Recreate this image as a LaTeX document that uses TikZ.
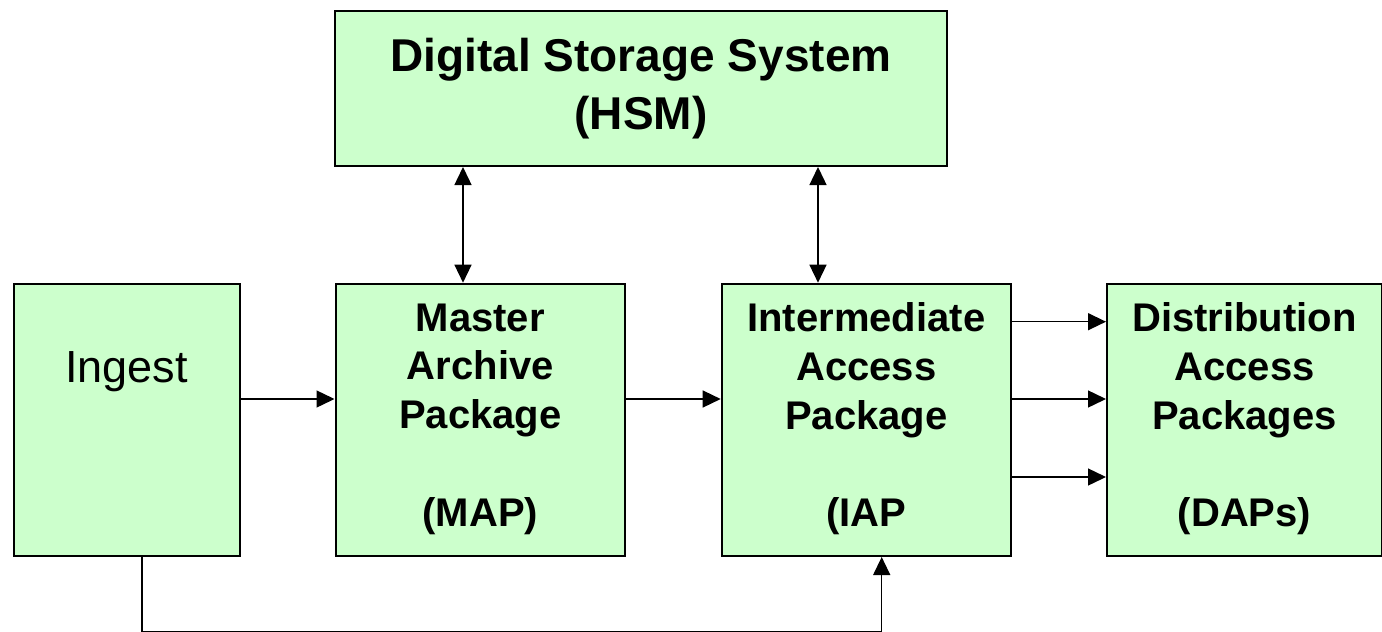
\documentclass[tikz,border=0pt]{standalone}
\usepackage{fontspec}
\setmainfont{Liberation Sans}
\usetikzlibrary{arrows.meta}
\definecolor{boxgreen}{HTML}{CCFFCC}
\begin{document}
\begin{tikzpicture}[x=1pt,y=-1pt,
  boxbase/.style={draw=black, line width=2pt, fill=boxgreen, inner sep=0pt, anchor=north west},
  box/.style={boxbase, align=center, font=\bfseries\fontsize{40}{48.7}\selectfont},
  link/.style={line width=1.4pt, -{Triangle[length=18pt,width=17pt]}},
  dlink/.style={line width=1.4pt, {Triangle[length=18pt,width=17pt]}-{Triangle[length=18pt,width=17pt]}}]
\useasboundingbox (0,0) rectangle (1382,632);

% storage system on top
\node[box, font=\bfseries\fontsize{46}{58}\selectfont,
      minimum width=612pt, minimum height=155pt] (hsm) at (334,10)
  {Digital Storage System\\(HSM)};

% row of processing stages
\node[boxbase, font=\fontsize{45}{54}\selectfont, minimum width=226pt,
      text height=98.8pt, text depth=173.5pt] (ingest) at (12.5,282.7) {Ingest};
\node[box, minimum width=289.5pt, minimum height=272.3pt, text depth=10pt] (map) at (334.5,282.7)
  {Master\\Archive\\Package\\[48.7pt](MAP)};
\node[box, minimum width=289.3pt, minimum height=272.3pt, text depth=10pt] (iap) at (720.7,282.7)
  {Intermediate\\Access\\Package\\[48.7pt](IAP};
\node[box, minimum width=275pt, minimum height=272.3pt, text depth=10pt] (dap) at (1106,282.7)
  {Distribution\\Access\\Packages\\[48.7pt](DAPs)};

% guide coordinates for connector positions
\coordinate (xa) at (463,0);
\coordinate (xb) at (818,0);
\coordinate (xc) at (142,0);
\coordinate (xd) at (881.7,0);
\coordinate (ya) at (0,399);
\coordinate (yb) at (0,321.7);
\coordinate (yc) at (0,477);
\coordinate (yd) at (0,631.6);

% connectors
\draw[dlink] (hsm.south -| xa) -- (map.north -| xa);
\draw[dlink] (hsm.south -| xb) -- (iap.north -| xb);
\draw[link] (ingest.east |- ya) -- (map.west |- ya);
\draw[link] (map.east |- ya) -- (iap.west |- ya);
\draw[link] (iap.east |- yb) -- (dap.west |- yb);
\draw[link] (iap.east |- ya) -- (dap.west |- ya);
\draw[link] (iap.east |- yc) -- (dap.west |- yc);
\draw[link] (ingest.south -| xc) -- (xc |- yd) -- (xd |- yd) -- (iap.south -| xd);
\end{tikzpicture}
\end{document}
